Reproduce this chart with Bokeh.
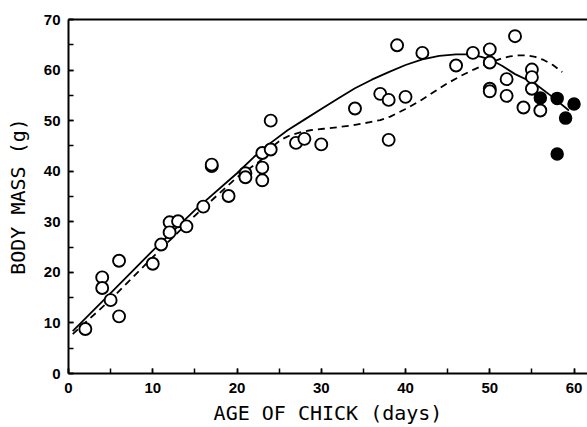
from bokeh.plotting import figure
from bokeh.models import Range1d, LinearAxis, FixedTicker, SingleIntervalTicker
from bokeh.embed import file_html
from bokeh.resources import INLINE

# Open circles: age (days) and body mass (g)
open_age = [2, 4, 4, 5, 6, 6, 10, 11, 12, 12, 13, 14, 16, 17, 17, 19, 21, 21,
            23, 23, 23, 24, 24, 27, 28, 30, 34, 37, 38, 38, 40, 39, 42, 46, 48,
            50, 50, 50, 50, 52, 52, 53, 54, 55, 55, 55, 56]
open_mass = [8.8, 19.0, 16.9, 14.5, 22.3, 11.3, 21.7, 25.5, 29.9, 27.9, 30.1,
             29.1, 33.0, 41.0, 41.3, 35.1, 39.6, 38.8, 43.6, 40.7, 38.2, 44.3,
             50.0, 45.6, 46.4, 45.3, 52.4, 55.3, 54.1, 46.2, 54.7, 64.9, 63.4,
             60.9, 63.4, 64.1, 61.5, 56.3, 55.8, 58.2, 54.9, 66.7, 52.6, 60.1,
             58.6, 56.3, 52.0]

# Filled circles
filled_age = [56, 58, 60, 59, 58]
filled_mass = [54.5, 54.4, 53.3, 50.5, 43.4]

# Solid fitted curve
solid_age = [0.5, 5, 10, 15, 20, 22, 24, 26, 28, 30, 32, 34, 36, 38, 40, 42,
             44, 46, 47.5, 49, 50.3, 51.5, 53, 55.3, 57.2, 59.4]
solid_mass = [8.4, 15.9, 24.3, 32.3, 39.6, 42.8, 45.6, 48.1, 50.2, 52.3, 54.4,
              56.4, 58.1, 59.6, 61.0, 62.1, 62.8, 63.1, 63.1, 62.6, 61.9, 60.8,
              59.2, 57.4, 55.0, 52.0]

# Dashed fitted curve
dash_age = [0.5, 5, 10, 15, 20, 22.8, 24, 25.2, 26.3, 27.5, 28.7, 30.3, 31.9,
            33.8, 35.8, 37.0, 38.2, 40.0, 41.8, 43.4, 44.9, 46.5, 48.1, 49.2,
            50.3, 51.4, 52.4, 53.4, 54.4, 55.4, 56.4, 57.5, 58.6]
dash_mass = [7.8, 14.6, 23.0, 31.2, 38.8, 42.1, 44.6, 46.2, 47.1, 47.7, 48.1,
             48.4, 48.7, 49.1, 49.7, 50.1, 50.8, 52.3, 54.0, 55.7, 57.3, 58.8,
             60.1, 60.9, 61.6, 62.3, 62.7, 62.9, 62.9, 62.6, 62.0, 61.0, 59.6]

x_ticks = [0, 10, 20, 30, 40, 50, 60]
y_ticks = [0, 10, 20, 30, 40, 50, 60, 70]

p = figure(width=587, height=427, output_backend="svg", toolbar_location=None,
           x_range=Range1d(0, 61.6), y_range=Range1d(0, 70),
           min_border_left=68, min_border_right=0, min_border_top=19,
           min_border_bottom=54)
p.outline_line_color = None
p.grid.visible = False
p.background_fill_color = "white"
p.border_fill_color = "white"

p.line(solid_age, solid_mass, line_color="black", line_width=1.8,
       line_join="round")
p.line(dash_age, dash_mass, line_color="black", line_width=1.8,
       line_dash="7 5", line_join="round")

p.scatter(open_age, open_mass, marker="circle", size=12, fill_color="white",
          line_color="black", line_width=1.9)
p.scatter(filled_age, filled_mass, marker="circle", size=12, fill_color="black",
          line_color="black", line_width=1.5)

for ax, ticks in ((p.xaxis[0], x_ticks), (p.yaxis[0], y_ticks)):
    ax.ticker = SingleIntervalTicker(interval=10, num_minor_ticks=2)
    ax.major_tick_in = 5
    ax.major_tick_out = 0
    ax.minor_tick_in = 5
    ax.minor_tick_out = 0
    ax.axis_line_width = 2
    ax.axis_line_color = "black"
    ax.major_tick_line_width = 1.5
    ax.minor_tick_line_width = 1.5
    ax.major_tick_line_color = "black"
    ax.minor_tick_line_color = "black"
    ax.major_label_text_font = "Liberation Sans"
    ax.major_label_text_font_style = "bold"
    ax.major_label_text_font_size = "15px"
    ax.major_label_text_color = "black"
    ax.axis_label_text_font = "DejaVu Sans Mono"
    ax.axis_label_text_font_style = "normal"
    ax.axis_label_text_font_size = "20px"
    ax.axis_label_text_color = "black"

p.xaxis.axis_label = "AGE OF CHICK (days)"
p.yaxis.axis_label = "BODY MASS (g)"
p.xaxis.major_label_standoff = 9
p.yaxis.major_label_standoff = 8
p.xaxis.axis_label_standoff = 5
p.yaxis.axis_label_standoff = 11

top = LinearAxis(ticker=FixedTicker(ticks=[]), major_label_text_font_size="0px",
                 major_tick_in=0, major_tick_out=0, minor_tick_in=0,
                 minor_tick_out=0, axis_line_width=2, axis_line_color="black")
p.add_layout(top, "above")

open("out.html", "w").write(file_html(p, INLINE))
